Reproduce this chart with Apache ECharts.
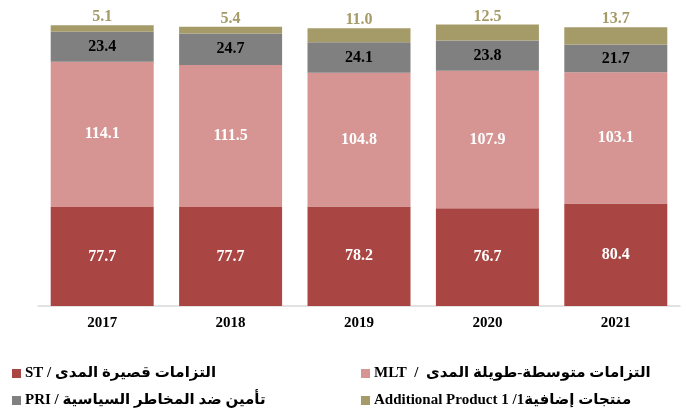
<!DOCTYPE html>
<html>
<head>
<meta charset="utf-8">
<script src="https://cdn.jsdelivr.net/npm/echarts@6/dist/echarts.min.js"></script>
<style>
html, body { margin: 0; padding: 0; background: #fff; }
#main { width: 686px; height: 408px; }
</style>
</head>
<body>
<div id="main"></div>
<script>
var years = ['2017', '2018', '2019', '2020', '2021'];
var stVals = [77.7, 77.7, 78.2, 76.7, 80.4];
var mltVals = [114.1, 111.5, 104.8, 107.9, 103.1];
var priVals = [23.4, 24.7, 24.1, 23.8, 21.7];
var addVals = [5.1, 5.4, 11.0, 12.5, 13.7];

var nameST = 'ST / التزامات قصيرة المدى';
var nameMLT = 'MLT  /  التزامات متوسطة-طويلة المدى';
var namePRI = 'PRI / تأمين ضد المخاطر السياسية';
var nameADD = 'Additional Product 1 /1منتجات إضافية';

var dom = document.getElementById('main');
var myChart = echarts.init(dom);
var font = '"Liberation Serif", "Times New Roman", "DejaVu Sans", serif';

function fmt(p) { return p.value.toFixed(1); }

function legendAt(name, left, top) {
    return {
        data: [name],
        left: left,
        top: top,
        itemWidth: 9,
        itemHeight: 9,
        itemGap: 0,
        icon: 'rect',
        textStyle: { fontFamily: font, fontWeight: 'bold', fontSize: 15, color: '#000', padding: [0, 0, 0, -1] },
        selectedMode: false
    };
}

var option = {
    animation: false,
    grid: { left: 38, right: 6, top: 13, bottom: 102 },
    legend: [
        legendAt(nameST, 7, 361),
        legendAt(nameMLT, 356, 361),
        legendAt(namePRI, 7, 388),
        legendAt(nameADD, 356, 388)
    ],
    xAxis: {
        type: 'category',
        data: years,
        axisLine: { lineStyle: { color: '#d9d9d9', width: 1.5 } },
        axisTick: { show: false },
        axisLabel: { fontFamily: font, fontWeight: 'bold', fontSize: 15, color: '#000', margin: 10 }
    },
    yAxis: {
        type: 'value',
        min: 0,
        max: 230,
        show: false,
        splitLine: { show: false }
    },
    series: [
        {
            name: nameST, type: 'bar', stack: 'a', barWidth: 103, data: stVals,
            itemStyle: { color: '#a94644' },
            label: { show: true, position: 'inside', formatter: fmt, color: '#fff', fontFamily: font, fontWeight: 'bold', fontSize: 16 }
        },
        {
            name: nameMLT, type: 'bar', stack: 'a', data: mltVals,
            itemStyle: { color: '#d69593' },
            label: { show: true, position: 'inside', formatter: fmt, color: '#fff', fontFamily: font, fontWeight: 'bold', fontSize: 16 }
        },
        {
            name: namePRI, type: 'bar', stack: 'a', data: priVals,
            itemStyle: { color: '#808080' },
            label: { show: true, position: 'inside', formatter: fmt, color: '#000', fontFamily: font, fontWeight: 'bold', fontSize: 16 }
        },
        {
            name: nameADD, type: 'bar', stack: 'a', data: addVals,
            itemStyle: { color: '#a59b68' },
            label: { show: true, position: 'top', distance: 0, formatter: fmt, color: '#a59b68', fontFamily: font, fontWeight: 'bold', fontSize: 16 }
        }
    ]
};

if (option && typeof option === "object") {
    myChart.setOption(option, true);
}
</script>
</body>
</html>
